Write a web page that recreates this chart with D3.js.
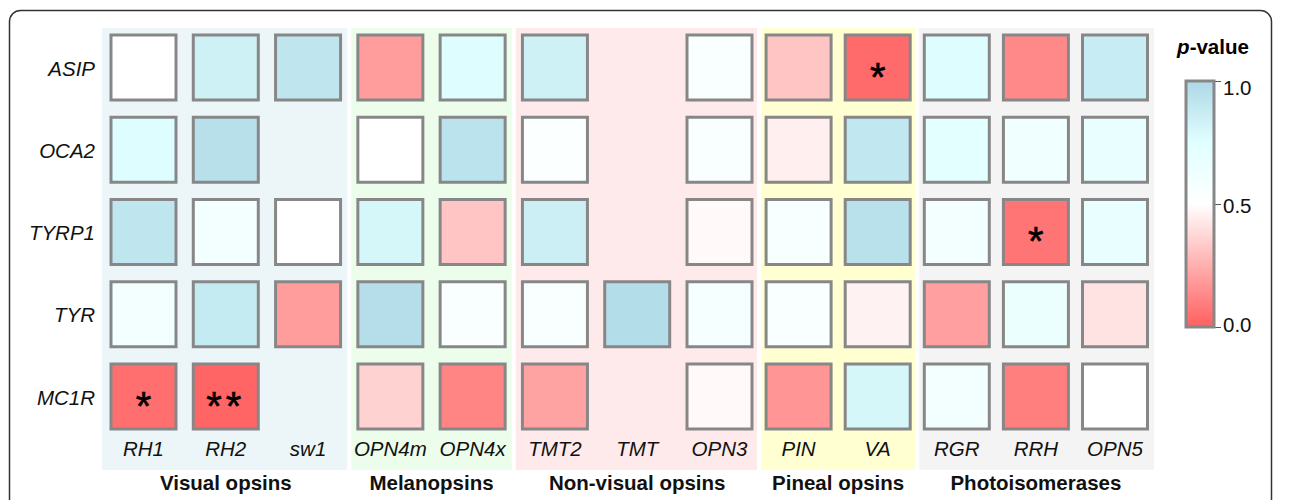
<!DOCTYPE html>
<html lang="en">
<head>
    <meta charset="UTF-8">
    <title>Opsin / pigmentation gene p-values</title>
    <script src="https://d3js.org/d3.v7.min.js"></script>
    <style>
        body {
            margin: 0;
            padding: 0;
            background-color: white;
        }
        svg {
            display: block;
            font-family: 'Liberation Sans', Arial, sans-serif;
        }
        .row-label, .col-label {
            font-size: 20.5px;
            font-style: italic;
            fill: #111;
        }
        .group-label {
            font-size: 20.5px;
            font-weight: bold;
            fill: #111;
            text-anchor: middle;
        }
        .star {
            font-size: 40px;
            text-anchor: middle;
            fill: black;
            stroke: black;
            stroke-width: 0.6px;
        }
        .legend-title {
            font-size: 20.5px;
            font-weight: bold;
            text-anchor: middle;
        }
    </style>
</head>
<body>
    <svg width="1295" height="500"></svg>

    <script>
        const genes = ["ASIP", "OCA2", "TYRP1", "TYR", "MC1R"];
        const opsins = ["RH1", "RH2", "sw1", "OPN4m", "OPN4x", "TMT2", "TMT", "OPN3", "PIN", "VA", "RGR", "RRH", "OPN5"];

        const groups = [
            { name: "Visual opsins", first: 0, last: 2, fill: "#ecf5f8" },
            { name: "Melanopsins", first: 3, last: 4, fill: "#edfdeb" },
            { name: "Non-visual opsins", first: 5, last: 7, fill: "#ffeaeb" },
            { name: "Pineal opsins", first: 8, last: 9, fill: "#ffffd2" },
            { name: "Photoisomerases", first: 10, last: 12, fill: "#f4f4f4" }
        ];

        // p-values, one row per gene, one column per opsin (null = not tested)
        const pASIP  = [0.50, 0.84, 0.91, 0.19, 0.76, 0.84, null, 0.55, 0.32, 0.035, 0.76, 0.13, 0.87];
        const pOCA2  = [0.76, 0.95, null, 0.50, 0.93, 0.53, null, 0.55, 0.45, 0.90, 0.72, 0.62, 0.68];
        const pTYRP1 = [0.91, 0.60, 0.50, 0.80, 0.32, 0.85, null, 0.48, 0.56, 0.94, 0.60, 0.07, 0.68];
        const pTYR   = [0.60, 0.88, 0.19, 0.96, 0.55, 0.55, 0.97, 0.58, 0.55, 0.46, 0.20, 0.65, 0.41];
        const pMC1R  = [0.05, 0.02, null, 0.36, 0.12, 0.21, null, 0.48, 0.17, 0.80, 0.60, 0.10, 0.50];
        const pValues = [pASIP, pOCA2, pTYRP1, pTYR, pMC1R];

        const stars = [
            { gene: "ASIP", opsin: "VA", label: "*" },
            { gene: "TYRP1", opsin: "RRH", label: "*" },
            { gene: "MC1R", opsin: "RH1", label: "*" },
            { gene: "MC1R", opsin: "RH2", label: "**" }
        ];

        const legendTicks = [0, 0.5, 1];

        const svg = d3.select("svg");
        const cell = 65;

        // column centres: pitch is a bit tighter in the last groups
        const xScale = d3.scaleLinear()
                         .domain([0, 7, 12])
                         .range([143.5, 719.5, 1115]);
        const colX = function(name) { return xScale(opsins.indexOf(name)); };

        const yScale = d3.scalePoint()
                         .domain(genes)
                         .range([67.5, 396.5]);

        const color = d3.scaleLinear()
                        .domain([0, 0.5, 0.75, 1])
                        .range(["#ff5f5f", "#ffffff", "#e0ffff", "#add8e6"]);

        // outer frame
        svg.append("rect")
            .attr("x", 9.5)
            .attr("y", 10.5)
            .attr("width", 1262)
            .attr("height", 520)
            .attr("rx", 11)
            .attr("fill", "none")
            .attr("stroke", "#333")
            .attr("stroke-width", 1.5);

        // group backgrounds
        groups.forEach(function(g) {
            const left = g.first === 0 ? xScale(0) - 41.5 : (xScale(g.first) + xScale(g.first - 1)) / 2 + 2;
            const right = g.last === opsins.length - 1 ? xScale(g.last) + 39 : (xScale(g.last) + xScale(g.last + 1)) / 2 - 2;

            svg.append("rect")
                .attr("x", left)
                .attr("y", 28)
                .attr("width", right - left)
                .attr("height", 442)
                .attr("fill", g.fill);

            svg.append("text")
                .attr("class", "group-label")
                .attr("x", (xScale(g.first) + xScale(g.last)) / 2)
                .attr("y", 490)
                .text(g.name);
        });

        // cells
        pValues.forEach(function(row, i) {
            row.forEach(function(p, j) {
                if (p === null) return;
                svg.append("rect")
                    .attr("x", xScale(j) - cell / 2)
                    .attr("y", yScale(genes[i]) - cell / 2)
                    .attr("width", cell)
                    .attr("height", cell)
                    .attr("fill", color(p))
                    .attr("stroke", "#878787")
                    .attr("stroke-width", 3);
            });
        });

        stars.forEach(function(s) {
            svg.append("text")
                .attr("class", "star")
                .attr("x", colX(s.opsin))
                .attr("y", yScale(s.gene) + 23)
                .attr("letter-spacing", s.label.length > 1 ? 4 : 0)
                .text(s.label);
        });

        // row and column labels
        genes.forEach(function(g) {
            svg.append("text")
                .attr("class", "row-label")
                .attr("x", 95)
                .attr("y", yScale(g) + 8)
                .attr("text-anchor", "end")
                .text(g);
        });

        opsins.forEach(function(o, j) {
            svg.append("text")
                .attr("class", "col-label")
                .attr("x", xScale(j))
                .attr("y", 456)
                .attr("text-anchor", "middle")
                .text(o);
        });

        // legend
        const legendX = 1186, legendW = 28;
        const legendScale = d3.scaleLinear().domain([0, 1]).range([327, 81]);

        const grad = svg.append("defs").append("linearGradient")
            .attr("id", "pgrad")
            .attr("x1", 0).attr("y1", 1)
            .attr("x2", 0).attr("y2", 0);
        d3.range(0, 1.0001, 0.05).forEach(function(t) {
            grad.append("stop")
                .attr("offset", t)
                .attr("stop-color", color(t));
        });

        const title = svg.append("text")
            .attr("class", "legend-title")
            .attr("x", 1213)
            .attr("y", 54);
        title.append("tspan").attr("font-style", "italic").text("p");
        title.append("tspan").text("-value");

        svg.append("g")
            .attr("transform", `translate(${legendX + legendW},0)`)
            .call(d3.axisRight(legendScale)
                    .tickValues(legendTicks)
                    .tickSize(7)
                    .tickPadding(2)
                    .tickFormat(d3.format(".1f")))
            .call(function(g) {
                g.select(".domain").remove();
                g.selectAll("line").attr("stroke", "#555");
                g.selectAll("text")
                    .attr("font-size", 20.5)
                    .attr("font-family", "'Liberation Sans', Arial, sans-serif")
                    .attr("fill", "#111")
                    .attr("dy", function(d) { return d === 1 ? "0.65em" : d === 0 ? "0.2em" : "0.4em"; });
            });

        svg.append("rect")
            .attr("x", legendX)
            .attr("y", legendScale(1))
            .attr("width", legendW)
            .attr("height", legendScale(0) - legendScale(1))
            .attr("fill", "url(#pgrad)")
            .attr("stroke", "#878787")
            .attr("stroke-width", 3);
    </script>
</body>
</html>
